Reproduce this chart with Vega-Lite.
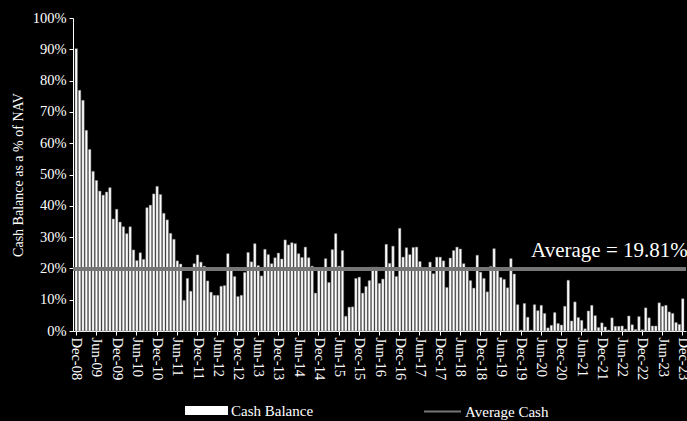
{
  "$schema": "https://vega.github.io/schema/vega-lite/v6.json",
  "width": 613,
  "height": 313,
  "autosize": {"type": "none"},
  "padding": {"left": 73, "top": 18, "right": 1, "bottom": 90},
  "background": "#000000",
  "config": {
    "view": {"stroke": null},
    "font": "Liberation Serif",
    "legend": {"padding": 0},
    "axisY": {
      "grid": false, "labelOverlap": false,
      "domainColor": "#ffffff", "tickColor": "#ffffff", "tickSize": 4,
      "labelColor": "#ffffff", "labelFontSize": 14.5, "labelFont": "Liberation Serif", "labelPadding": 3,
      "titleColor": "#ffffff", "titleFontSize": 14, "titleFont": "Liberation Serif", "titleFontWeight": "normal", "titlePadding": 7
    }
  },
  "data": {"values": [
    {"m":"Dec-08","v":90.2},
    {"m":"Jan-09","v":76.9},{"m":"Feb-09","v":73.7},{"m":"Mar-09","v":64.1},{"m":"Apr-09","v":58.0},{"m":"May-09","v":51.0},{"m":"Jun-09","v":48.1},{"m":"Jul-09","v":44.7},{"m":"Aug-09","v":43.4},{"m":"Sep-09","v":44.4},{"m":"Oct-09","v":45.8},{"m":"Nov-09","v":35.8},{"m":"Dec-09","v":38.9},
    {"m":"Jan-10","v":34.8},{"m":"Feb-10","v":33.3},{"m":"Mar-10","v":31.1},{"m":"Apr-10","v":33.3},{"m":"May-10","v":25.9},{"m":"Jun-10","v":22.5},{"m":"Jul-10","v":25.0},{"m":"Aug-10","v":22.9},{"m":"Sep-10","v":39.4},{"m":"Oct-10","v":40.2},{"m":"Nov-10","v":43.8},{"m":"Dec-10","v":46.2},
    {"m":"Jan-11","v":43.6},{"m":"Feb-11","v":37.6},{"m":"Mar-11","v":35.5},{"m":"Apr-11","v":31.2},{"m":"May-11","v":29.3},{"m":"Jun-11","v":22.4},{"m":"Jul-11","v":21.4},{"m":"Aug-11","v":9.8},{"m":"Sep-11","v":16.8},{"m":"Oct-11","v":12.7},{"m":"Nov-11","v":21.5},{"m":"Dec-11","v":24.3},
    {"m":"Jan-12","v":22.0},{"m":"Feb-12","v":20.7},{"m":"Mar-12","v":16.0},{"m":"Apr-12","v":12.4},{"m":"May-12","v":11.4},{"m":"Jun-12","v":11.4},{"m":"Jul-12","v":14.3},{"m":"Aug-12","v":14.5},{"m":"Sep-12","v":24.7},{"m":"Oct-12","v":20.3},{"m":"Nov-12","v":17.4},{"m":"Dec-12","v":11.0},
    {"m":"Jan-13","v":11.4},{"m":"Feb-13","v":18.7},{"m":"Mar-13","v":25.1},{"m":"Apr-13","v":22.1},{"m":"May-13","v":27.9},{"m":"Jun-13","v":20.9},{"m":"Jul-13","v":17.6},{"m":"Aug-13","v":26.1},{"m":"Sep-13","v":24.4},{"m":"Oct-13","v":21.5},{"m":"Nov-13","v":23.4},{"m":"Dec-13","v":24.9},
    {"m":"Jan-14","v":23.0},{"m":"Feb-14","v":29.1},{"m":"Mar-14","v":27.5},{"m":"Apr-14","v":28.2},{"m":"May-14","v":27.9},{"m":"Jun-14","v":24.7},{"m":"Jul-14","v":23.5},{"m":"Aug-14","v":26.8},{"m":"Sep-14","v":23.4},{"m":"Oct-14","v":20.7},{"m":"Nov-14","v":12.1},{"m":"Dec-14","v":19.6},
    {"m":"Jan-15","v":19.6},{"m":"Feb-15","v":23.1},{"m":"Mar-15","v":15.5},{"m":"Apr-15","v":26.0},{"m":"May-15","v":31.1},{"m":"Jun-15","v":20.7},{"m":"Jul-15","v":25.7},{"m":"Aug-15","v":4.7},{"m":"Sep-15","v":7.6},{"m":"Oct-15","v":7.7},{"m":"Nov-15","v":16.8},{"m":"Dec-15","v":17.2},
    {"m":"Jan-16","v":12.1},{"m":"Feb-16","v":14.2},{"m":"Mar-16","v":16.1},{"m":"Apr-16","v":20.4},{"m":"May-16","v":20.4},{"m":"Jun-16","v":15.2},{"m":"Jul-16","v":16.6},{"m":"Aug-16","v":27.7},{"m":"Sep-16","v":21.6},{"m":"Oct-16","v":27.1},{"m":"Nov-16","v":17.4},{"m":"Dec-16","v":32.8},
    {"m":"Jan-17","v":23.6},{"m":"Feb-17","v":26.6},{"m":"Mar-17","v":24.4},{"m":"Apr-17","v":26.7},{"m":"May-17","v":26.8},{"m":"Jun-17","v":22.2},{"m":"Jul-17","v":19.7},{"m":"Aug-17","v":19.7},{"m":"Sep-17","v":22.0},{"m":"Oct-17","v":18.3},{"m":"Nov-17","v":23.6},{"m":"Dec-17","v":23.6},
    {"m":"Jan-18","v":22.4},{"m":"Feb-18","v":13.9},{"m":"Mar-18","v":23.3},{"m":"Apr-18","v":25.7},{"m":"May-18","v":26.8},{"m":"Jun-18","v":26.2},{"m":"Jul-18","v":21.5},{"m":"Aug-18","v":19.7},{"m":"Sep-18","v":16.1},{"m":"Oct-18","v":13.7},{"m":"Nov-18","v":24.2},{"m":"Dec-18","v":18.8},
    {"m":"Jan-19","v":16.8},{"m":"Feb-19","v":12.5},{"m":"Mar-19","v":20.6},{"m":"Apr-19","v":26.3},{"m":"May-19","v":19.5},{"m":"Jun-19","v":17.1},{"m":"Jul-19","v":16.5},{"m":"Aug-19","v":13.8},{"m":"Sep-19","v":23.1},{"m":"Oct-19","v":18.2},{"m":"Nov-19","v":8.4},{"m":"Dec-19","v":0.3},
    {"m":"Jan-20","v":8.8},{"m":"Feb-20","v":4.4},{"m":"Mar-20","v":0.3},{"m":"Apr-20","v":8.4},{"m":"May-20","v":6.5},{"m":"Jun-20","v":8.2},{"m":"Jul-20","v":5.6},{"m":"Aug-20","v":1.0},{"m":"Sep-20","v":1.8},{"m":"Oct-20","v":5.9},{"m":"Nov-20","v":2.4},{"m":"Dec-20","v":1.9},
    {"m":"Jan-21","v":7.9},{"m":"Feb-21","v":16.2},{"m":"Mar-21","v":3.2},{"m":"Apr-21","v":9.3},{"m":"May-21","v":4.3},{"m":"Jun-21","v":3.4},{"m":"Jul-21","v":0.7},{"m":"Aug-21","v":6.4},{"m":"Sep-21","v":8.2},{"m":"Oct-21","v":4.9},{"m":"Nov-21","v":1.1},{"m":"Dec-21","v":2.6},
    {"m":"Jan-22","v":1.3},{"m":"Feb-22","v":0.3},{"m":"Mar-22","v":4.2},{"m":"Apr-22","v":1.5},{"m":"May-22","v":1.5},{"m":"Jun-22","v":1.6},{"m":"Jul-22","v":0.6},{"m":"Aug-22","v":4.8},{"m":"Sep-22","v":2.0},{"m":"Oct-22","v":0.5},{"m":"Nov-22","v":4.6},{"m":"Dec-22","v":0.4},
    {"m":"Jan-23","v":7.4},{"m":"Feb-23","v":4.2},{"m":"Mar-23","v":1.6},{"m":"Apr-23","v":1.6},{"m":"May-23","v":9.0},{"m":"Jun-23","v":7.9},{"m":"Jul-23","v":8.2},{"m":"Aug-23","v":6.1},{"m":"Sep-23","v":5.6},{"m":"Oct-23","v":2.7},{"m":"Nov-23","v":2.1},{"m":"Dec-23","v":10.3}
  ]},
  "layer": [
    {
      "mark": {"type": "bar", "stroke": "#7f7f7f", "strokeWidth": 0.5},
      "encoding": {
        "x": {
          "field": "m", "type": "ordinal", "sort": null,
          "scale": {"paddingInner": 0.28, "paddingOuter": 0.6},
          "axis": {
            "title": null,
            "values": ["Dec-08","Jun-09","Dec-09","Jun-10","Dec-10","Jun-11","Dec-11","Jun-12","Dec-12","Jun-13","Dec-13","Jun-14","Dec-14","Jun-15","Dec-15","Jun-16","Dec-16","Jun-17","Dec-17","Jun-18","Dec-18","Jun-19","Dec-19","Jun-20","Dec-20","Jun-21","Dec-21","Jun-22","Dec-22","Jun-23","Dec-23"],
            "labelAngle": 90, "labelFontSize": 14.5, "labelFont": "Liberation Serif", "labelColor": "#ffffff",
            "labelOverlap": false, "labelPadding": 2,
            "domainColor": "#ffffff", "tickColor": "#ffffff", "tickSize": 4
          }
        },
        "y": {
          "field": "v", "type": "quantitative",
          "scale": {"domain": [0, 100]},
          "axis": {
            "title": "Cash Balance as a % of NAV",
            "values": [0,10,20,30,40,50,60,70,80,90,100],
            "tickCount": 11,
            "labelExpr": "datum.value + '%'"
          }
        },
        "fill": {
          "datum": "Cash Balance", "type": "nominal",
          "scale": {"domain": ["Cash Balance"], "range": ["#ffffff"]},
          "legend": {
            "title": null, "orient": "none", "legendX": 112, "legendY": 371,
            "labelColor": "#ffffff", "labelFontSize": 15, "labelFont": "Liberation Serif", "labelOffset": 3,
            "symbolType": "M-1,-0.21H1V0.21H-1Z", "symbolSize": 1849, "symbolStrokeWidth": 0, "symbolOpacity": 1
          }
        }
      }
    },
    {
      "mark": {"type": "rule", "strokeWidth": 3},
      "encoding": {
        "y": {"datum": 19.81, "type": "quantitative", "axis": {"title": "Cash Balance as a % of NAV", "values": [0,10,20,30,40,50,60,70,80,90,100], "tickCount": 11, "labelExpr": "datum.value + '%'"}},
        "stroke": {
          "datum": "Average Cash", "type": "nominal",
          "scale": {"domain": ["Average Cash"], "range": ["#767676"]},
          "legend": {
            "title": null, "orient": "none", "legendX": 350, "legendY": 374,
            "labelColor": "#ffffff", "labelFontSize": 15, "labelFont": "Liberation Serif", "labelOffset": 3,
            "symbolType": "stroke", "symbolSize": 1369, "symbolStrokeWidth": 2, "symbolOpacity": 1
          }
        }
      }
    },
    {
      "data": {"values": [{"m": "Dec-23", "v": 19.81, "t": "Average = 19.81%"}]},
      "mark": {"type": "text", "align": "right", "baseline": "bottom", "dx": 5, "dy": -8, "fontSize": 21, "font": "Liberation Serif", "color": "#ffffff"},
      "encoding": {
        "x": {"field": "m", "type": "ordinal", "sort": null},
        "y": {"field": "v", "type": "quantitative", "axis": {"title": "Cash Balance as a % of NAV", "values": [0,10,20,30,40,50,60,70,80,90,100], "tickCount": 11, "labelExpr": "datum.value + '%'"}},
        "text": {"field": "t"}
      }
    }
  ]
}
